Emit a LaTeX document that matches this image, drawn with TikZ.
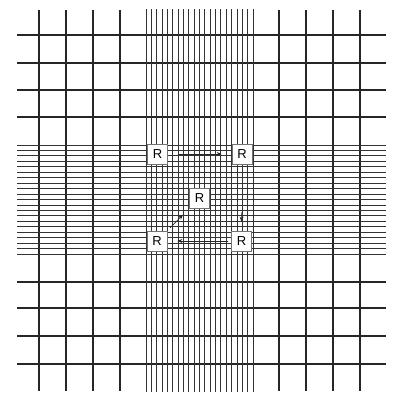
\documentclass[tikz,border=0pt]{standalone}
\usepackage{fontspec}
\setmainfont{Liberation Sans}
\usetikzlibrary{arrows.meta}
\begin{document}
\begin{tikzpicture}[x=1pt,y=-1pt,
  coarse/.style={line width=1.2pt,draw=black!85},
  fine/.style={line width=0.9pt,draw=black!80},
  rbox/.style={draw=black!55,line width=0.6pt,fill=white,minimum width=20pt,minimum height=20pt,inner sep=0pt,font=\fontsize{13}{13}\selectfont},
  arr/.style={line width=0.7pt,draw=black!85,-{Stealth[length=5pt,width=4pt]}}]
\useasboundingbox (0,0) rectangle (393,399);
% coarse vertical lines
\foreach \x in {39,66,93,120,279,306,333,360}
  \draw[coarse] (\x,10) -- (\x,391);
% coarse horizontal lines
\foreach \y in {35,63,90,117,282,308,336,364}
  \draw[coarse] (17,\y) -- (386,\y);
% dense vertical band
\foreach \i in {0,...,20}
  \draw[fine] ({146+5.35*\i},9) -- ({146+5.35*\i},392);
% dense horizontal band
\foreach \i in {0,...,20}
  \draw[fine] (17,{145+5.45*\i}) -- (386,{145+5.45*\i});
% R boxes
\node[rbox] (tl) at (157.5,154) {R};
\node[rbox] (tr) at (242,154) {R};
\node[rbox] (c) at (199.5,198) {R};
\node[rbox] (bl) at (157,241) {R};
\node[rbox] (br) at (241.5,241) {R};
% arrows
\draw[arr,shorten <=10pt,shorten >=10pt] (tl.east) -- (tr.west);
\draw[arr,shorten <=3pt,shorten >=10pt] (br.west) -- (bl.east);
\draw[arr,shorten <=4pt,shorten >=9pt] (bl.north east) -- (c.south west);
\draw[arr,shorten <=48pt,shorten >=9pt] (tr.south) -- (br.north);
\end{tikzpicture}
\end{document}
